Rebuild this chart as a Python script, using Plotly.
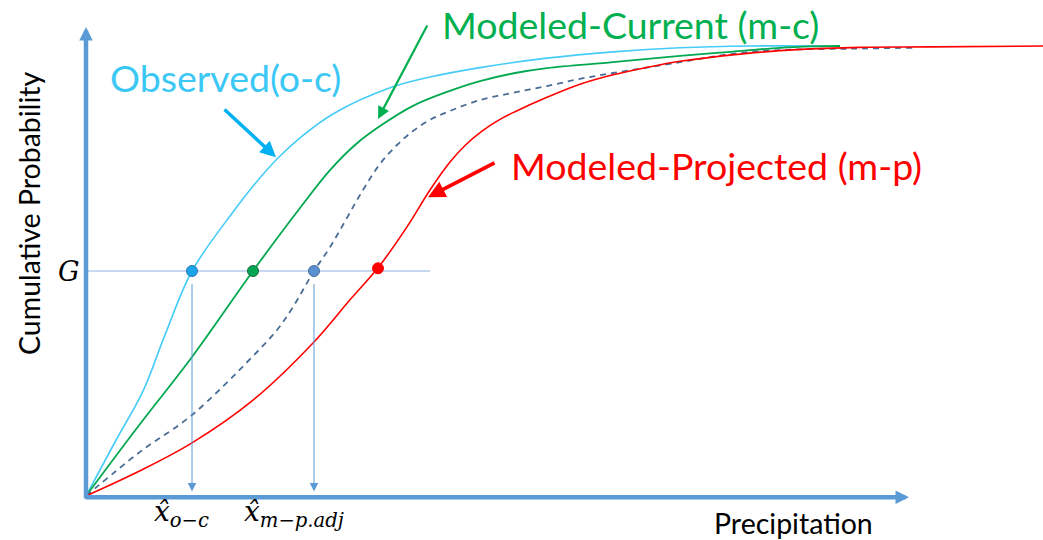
import plotly.graph_objects as go

# Cumulative distribution curves (precipitation in arbitrary units, probability 0-1)
obs_x = [0, 0.29, 0.57, 0.79, 1.06, 1.47, 1.69, 1.91, 2.14, 2.47, 3.04, 3.44, 3.94,
         4.61, 5.27, 5.94, 6.64, 7.44]
obs_p = [0, 0.12, 0.233, 0.358, 0.5, 0.631, 0.694, 0.749, 0.796, 0.849, 0.907, 0.931,
         0.952, 0.973, 0.987, 0.996, 1.0, 1.0]

mc_x = [0, 0.54, 1.06, 1.67, 2.14, 2.44, 2.69, 2.94, 3.27, 3.61, 3.94, 4.29, 4.61, 5.27,
        5.94, 6.44, 6.94, 7.27, 7.54]
mc_p = [0, 0.16, 0.309, 0.5, 0.64, 0.724, 0.78, 0.822, 0.867, 0.898, 0.922, 0.94, 0.951,
        0.964, 0.978, 0.987, 0.996, 0.999, 1.0]

adj_x = [0, 0.54, 1.06, 1.67, 1.91, 2.07, 2.28, 2.44, 2.77, 2.94, 3.11, 3.27, 3.44, 3.61,
         3.94, 4.27, 4.61, 4.94, 5.27, 5.94, 6.44, 6.94, 7.64, 8.27]
adj_p = [0, 0.098, 0.18, 0.311, 0.369, 0.42, 0.5, 0.553, 0.68, 0.738, 0.78, 0.811, 0.836,
         0.853, 0.88, 0.896, 0.911, 0.927, 0.94, 0.964, 0.982, 0.991, 0.994, 0.996]

mp_x = [0, 0.54, 1.06, 1.67, 2.27, 2.64, 2.92, 3.21, 3.44, 3.64, 3.79, 3.96, 4.14, 4.29,
        4.61, 4.94, 5.27, 5.60, 5.94, 6.54, 7.11, 7.74, 8.44, 9.57]
mp_p = [0, 0.056, 0.118, 0.213, 0.34, 0.436, 0.507, 0.598, 0.68, 0.742, 0.779, 0.811,
        0.837, 0.854, 0.886, 0.915, 0.936, 0.952, 0.966, 0.982, 0.992, 0.997, 0.998, 1.0]

# Probability level G and the quantiles where each curve crosses it
G = 0.5
dot_x = [1.06, 1.67, 2.28, 2.92]
dot_p = [0.5, 0.5, 0.5, 0.506]
dot_fill = ["#1AA6E8", "#00A651", "#5B8FCF", "#FF0000"]
dot_edge = ["#2E75B6", "#1E6B3F", "#41719C", "#FF0000"]

AXIS_BLUE = "#5B9BD5"
FONT = "Lato"

fig = go.Figure()

curves = [
    (obs_x, obs_p, "#45CCF8", 1.6, "solid"),
    (mc_x, mc_p, "#00A84F", 1.8, "solid"),
    (adj_x, adj_p, "#4A6D95", 1.8, "6px,5px"),
    (mp_x, mp_p, "#FF0000", 1.6, "solid"),
]
for xs, ps, col, w, dash in curves:
    fig.add_trace(go.Scatter(
        x=xs, y=ps, mode="lines",
        line=dict(color=col, width=w, dash=dash, shape="spline", smoothing=1.0),
        hoverinfo="skip",
    ))

# horizontal G line
fig.add_trace(go.Scatter(
    x=[0, 3.44], y=[G, G], mode="lines",
    line=dict(color="#8DB4E2", width=1.2), hoverinfo="skip",
))

fig.add_trace(go.Scatter(
    x=dot_x, y=dot_p, mode="markers",
    marker=dict(size=11, color=dot_fill, line=dict(color=dot_edge, width=1)),
    hoverinfo="skip",
))

ann = []


def arrow(x, y, ax, ay, color, width, size, head=2):
    ann.append(dict(
        x=x, y=y, ax=ax, ay=ay, xref="x", yref="y", axref="x", ayref="y",
        text="", showarrow=True, arrowhead=head, arrowsize=size,
        arrowwidth=width, arrowcolor=color, standoff=0, startstandoff=0,
    ))


# axes with arrow tips
arrow(0, 1.042, 0, -0.009, AXIS_BLUE, 4.5, 0.6)
arrow(8.23, -0.003, -0.02, -0.003, AXIS_BLUE, 4.5, 0.6)

# drop lines from the G crossings to the precipitation axis
for xv in (dot_x[0], dot_x[2]):
    arrow(xv, 0.01, xv, 0.474, AXIS_BLUE, 1, 1.7)

# pointer arrows to the curves
arrow(1.90, 0.753, 1.37, 0.862, "#00B0F0", 3.5, 0.9)
arrow(2.92, 0.838, 3.42, 1.049, "#00B050", 2.2, 1.1)
arrow(3.42, 0.664, 4.10, 0.742, "#FF0000", 3.8, 0.9)


def label(text, px, py, size, color, family=FONT, angle=0):
    ann.append(dict(
        x=px / 1043, y=1 - py / 540, xref="paper", yref="paper",
        text=text, showarrow=False, textangle=angle,
        xanchor="center", yanchor="middle",
        font=dict(family=family, size=size, color=color),
    ))


label("Observed(o-c)", 225, 77, 37.5, "#3CC8F5")
label("Modeled-Current (m-c)", 630, 25, 37.5, "#00B050")
label("Modeled-Projected (m-p)", 716, 166, 37.5, "#FF0000")
label("Cumulative Probability", 29, 214, 28.5, "#000000", angle=-90)
label("Precipitation", 793, 523, 28.5, "#000000")
label("<i>G</i>", 69, 271, 27, "#000000", family="DejaVu Serif")
label("<i>x\u0302<sub>o\u2212c</sub></i>", 181, 513, 28, "#000000", family="DejaVu Serif")
label("<i>x\u0302<sub>m\u2212p.adj</sub></i>", 294, 513, 28, "#000000", family="DejaVu Serif")

fig.update_layout(
    width=1043, height=540,
    margin=dict(l=0, r=0, t=0, b=0),
    paper_bgcolor="white", plot_bgcolor="white",
    showlegend=False,
    xaxis=dict(range=[-0.86, 9.57], visible=False, fixedrange=True),
    yaxis=dict(range=[-44 / 450, 496 / 450], visible=False, fixedrange=True),
    annotations=ann,
)

fig.write_html("out.html")
